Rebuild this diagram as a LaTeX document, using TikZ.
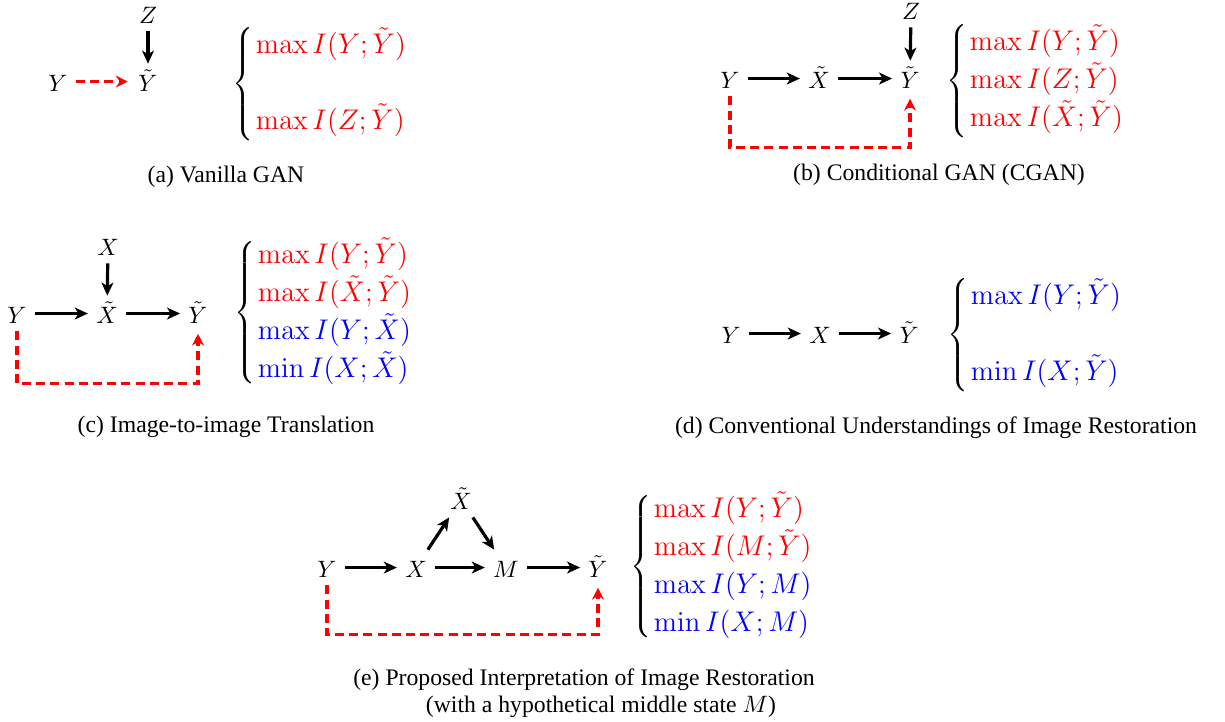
\documentclass[tikz,border=0pt]{standalone}
\usepackage[no-math]{fontspec}
\setmainfont{Liberation Serif}
\usetikzlibrary{arrows.meta}

% objectives next to each graph
\newcommand{\goals}[1]{$\renewcommand{\arraystretch}{1.14}\left\{\begin{array}{@{\hspace{1pt}}l}#1\end{array}\right.$}

\begin{document}
\begin{tikzpicture}[x=0.4219pt, y=-0.4219pt,
  var/.style={anchor=base, text height=8pt, text depth=0pt},
  link/.style={line width=1.35pt, -{Stealth[length=5.5pt, width=5pt, inset=1.5pt]}},
  adv/.style={red, line width=1.35pt, dash pattern=on 3.8pt off 2.2pt, shorten >=1pt, -{Stealth[length=5pt, width=5pt]}},
  goal/.style={anchor=west, inner sep=0pt, font=\large},
  subcap/.style={font=\rmfamily}]
  \useasboundingbox (0,0) rectangle (1225,721);

  % (a) vanilla GAN
  \node[var] (ya) at (58,91) {$Y$};
  \node[var] (yta) at (148,91) {$\tilde{Y}$};
  \node[var] (za) at (148,23) {$Z$};
  \draw[link] (za) -- (yta);
  \draw[adv] (ya) -- (yta);
  \node[goal] (ga) at (232,84) {\goals{\color{red}\max I(Y;\tilde{Y})\\ \\ \color{red}\max I(Z;\tilde{Y})}};
  \node[subcap] (capa) at (226,177) {(a) Vanilla GAN};

  % (b) conditional GAN
  \node[var] (yb) at (730,88) {$Y$};
  \node[var] (xtb) at (819,88) {$\tilde{X}$};
  \node[var] (ytb) at (910,88) {$\tilde{Y}$};
  \node[var] (zb) at (911,19) {$Z$};
  \draw[link] (yb) -- (xtb);
  \draw[link] (xtb) -- (ytb);
  \draw[link] (zb) -- (ytb);
  \draw[adv] (yb.south) -- ++(0,51) -| (ytb.south);
  \node[goal] (gb) at (946,81) {\goals{\color{red}\max I(Y;\tilde{Y})\\ \color{red}\max I(Z;\tilde{Y})\\ \color{red}\max I(\tilde{X};\tilde{Y})}};
  \node[subcap] (capb) at (939,175) {(b) Conditional GAN (CGAN)};

  % (c) image-to-image translation
  \node[var] (yc) at (17,323) {$Y$};
  \node[var] (xtc) at (107,323) {$\tilde{X}$};
  \node[var] (ytc) at (198,323) {$\tilde{Y}$};
  \node[var] (xc) at (108,255) {$X$};
  \draw[link] (yc) -- (xtc);
  \draw[link] (xtc) -- (ytc);
  \draw[link] (xc) -- (xtc);
  \draw[adv] (yc.south) -- ++(0,52) -| (ytc.south);
  \node[goal] (gc) at (234,313) {\goals{\color{red}\max I(Y;\tilde{Y})\\ \color{red}\max I(\tilde{X};\tilde{Y})\\ \color{blue}\max I(Y;\tilde{X})\\ \color{blue}\min I(X;\tilde{X})}};
  \node[subcap] (capc) at (226,427) {(c) Image-to-image Translation};

  % (d) conventional restoration
  \node[var] (yd) at (731,343) {$Y$};
  \node[var] (xd) at (820,343) {$X$};
  \node[var] (ytd) at (909,343) {$\tilde{Y}$};
  \draw[link] (yd) -- (xd);
  \draw[link] (xd) -- (ytd);
  \node[goal] (gd) at (947,335) {\goals{\color{blue}\max I(Y;\tilde{Y})\\ \\ \color{blue}\min I(X;\tilde{Y})}};
  \node[subcap] (capd) at (936,428) {(d) Conventional Understandings of Image Restoration};

  % (e) proposed, with middle state M
  \node[var] (ye) at (327,577) {$Y$};
  \node[var] (xe) at (416,577) {$X$};
  \node[var] (me) at (506,577) {$M$};
  \node[var] (yte) at (598,577) {$\tilde{Y}$};
  \node[var] (xte) at (461,509) {$\tilde{X}$};
  \draw[link] (ye) -- (xe);
  \draw[link] (xe) -- (me);
  \draw[link] (me) -- (yte);
  \draw[link] (xe) -- (xte);
  \draw[link] (xte) -- (me);
  \draw[adv] (ye.south) -- ++(0,49) -| (yte.south);
  \node[goal] (ge) at (630,567) {\goals{\color{red}\max I(Y;\tilde{Y})\\ \color{red}\max I(M;\tilde{Y})\\ \color{blue}\max I(Y;M)\\ \color{blue}\min I(X;M)}};
  \node[subcap] (cape) at (584,680) {(e) Proposed Interpretation of Image Restoration};
  \node[subcap] (cape2) at (601,707) {(with a hypothetical middle state $M$)};
\end{tikzpicture}
\end{document}
